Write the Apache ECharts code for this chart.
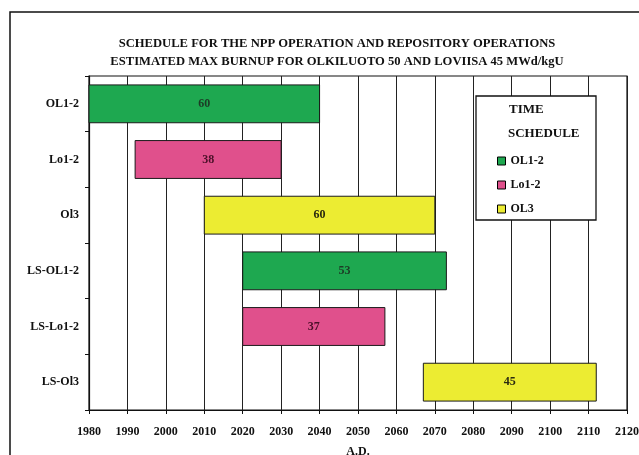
<!DOCTYPE html>
<html>
<head>
<meta charset="utf-8">
<script src="https://cdn.jsdelivr.net/npm/echarts@6/dist/echarts.min.js"></script>
<style>
  html, body { margin: 0; padding: 0; background: #fff; }
  #chart { width: 639px; height: 455px; }
</style>
</head>
<body>
<div id="chart"></div>
<script>
// Schedule rows, top to bottom
const categories = ['OL1-2', 'Lo1-2', 'Ol3', 'LS-OL1-2', 'LS-Lo1-2', 'LS-Ol3'];
// Start year and duration (years) for each row
const startYears = [1980, 1992, 2010, 2020, 2020, 2067];
const durations  = [60, 38, 60, 53, 37, 45];
// Which plant group each row belongs to
const groups = ['OL1-2', 'Lo1-2', 'OL3', 'OL1-2', 'Lo1-2', 'OL3'];
const groupNames = ['OL1-2', 'Lo1-2', 'OL3'];
const groupColors = ['#1ea850', '#e0508c', '#ecec32'];
const labelColors = ['#1d3b26', '#4a1028', '#2a2a10'];
// Year axis
const yearMin = 1980, yearMax = 2120, yearStep = 10;

const serif = '"Liberation Serif", "DejaVu Serif", serif';

function renderBar(params, api) {
  const row = api.value(0);
  const start = api.value(1);
  const dur = api.value(2);
  const p0 = api.coord([start, row]);
  const p1 = api.coord([start + dur, row]);
  const h = api.size([0, 1])[1] * 0.68;
  return {
    type: 'rect',
    shape: { x: p0[0], y: p0[1] - h / 2, width: p1[0] - p0[0], height: h },
    style: { fill: api.visual('color'), stroke: '#1a1a1a', lineWidth: 1 },
    textContent: {
      style: {
        text: String(dur),
        fill: labelColors[groupNames.indexOf(params.seriesName)],
        font: 'bold 12px ' + serif
      }
    },
    textConfig: { position: 'inside' }
  };
}

const series = groupNames.map((g, gi) => ({
  name: g,
  type: 'custom',
  renderItem: renderBar,
  itemStyle: { color: groupColors[gi], borderColor: '#000', borderWidth: 1 },
  encode: { x: [1], y: 0 },
  z: 2,
  data: categories
    .map((c, i) => groups[i] === g ? [i, startYears[i], durations[i]] : null)
    .filter(d => d !== null)
}));

const chart = echarts.init(document.getElementById('chart'), null, { renderer: 'canvas' });
chart.setOption({
  animation: false,
  backgroundColor: '#ffffff',
  title: {
    text: 'SCHEDULE FOR THE NPP OPERATION AND REPOSITORY OPERATIONS\nESTIMATED MAX BURNUP FOR OLKILUOTO 50 AND LOVIISA 45 MWd/kgU',
    left: 332,
    top: 30,
    textAlign: 'center',
    textStyle: { fontFamily: serif, fontWeight: 'bold', fontSize: 12.6, color: '#111', lineHeight: 18 }
  },
  grid: {
    left: 89, right: 12, top: 76, bottom: 45,
    outerBoundsMode: 'none',
    containLabel: false,
    show: true, borderColor: '#111', borderWidth: 1.2, backgroundColor: 'transparent'
  },
  xAxis: {
    type: 'value',
    min: yearMin, max: yearMax, interval: yearStep,
    name: 'A.D.',
    nameLocation: 'middle',
    nameGap: 36,
    nameTextStyle: { fontFamily: serif, fontWeight: 'bold', fontSize: 12, color: '#111' },
    axisLine: { show: true, lineStyle: { color: '#111', width: 1.2 } },
    axisTick: { show: true, length: 4, lineStyle: { color: '#111' } },
    axisLabel: {
      margin: 16, fontFamily: serif, fontWeight: 'bold', fontSize: 12, color: '#111',
      formatter: v => String(v)
    },
    splitLine: { show: true, lineStyle: { color: '#222', width: 1 } }
  },
  yAxis: {
    type: 'category',
    data: categories,
    inverse: true,
    axisLine: { show: true, lineStyle: { color: '#111', width: 1.2 } },
    axisTick: { show: true, length: 4, lineStyle: { color: '#111' } },
    axisLabel: { margin: 10, fontFamily: serif, fontWeight: 'bold', fontSize: 12, color: '#111' },
    splitLine: { show: false }
  },
  legend: {
    data: groupNames,
    orient: 'vertical',
    left: 497,
    top: 155,
    padding: 0,
    itemWidth: 8,
    itemHeight: 8,
    itemGap: 12,
    icon: 'rect',
    z: 6,
    itemStyle: { borderColor: '#000', borderWidth: 1 },
    textStyle: { fontFamily: serif, fontWeight: 'bold', fontSize: 12, color: '#111' }
  },
  graphic: [
    {
      type: 'rect', z: 0, silent: true,
      shape: { x: 10, y: 12, width: 700, height: 600 },
      style: { fill: null, stroke: '#111', lineWidth: 1.5 }
    },
    {
      type: 'rect', z: 5, silent: true,
      shape: { x: 476, y: 96, width: 120, height: 124 },
      style: { fill: '#fff', stroke: '#111', lineWidth: 1.3 }
    },
    {
      type: 'text', z: 6, left: 509, top: 103,
      style: { text: 'TIME', font: 'bold 13px ' + serif, fill: '#111' }
    },
    {
      type: 'text', z: 6, left: 508, top: 127,
      style: { text: 'SCHEDULE', font: 'bold 13px ' + serif, fill: '#111' }
    }
  ],
  series: series
});
</script>
</body>
</html>
